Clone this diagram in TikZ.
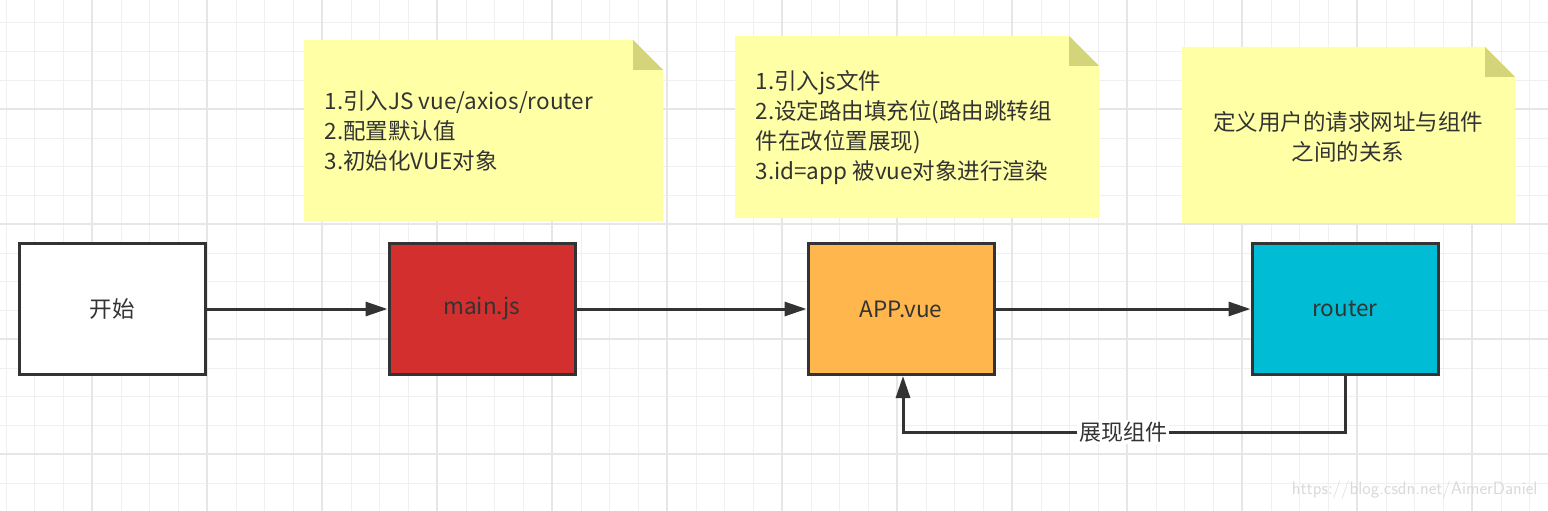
\documentclass[tikz,border=0pt]{standalone}
\usepackage{fontspec}
\setmainfont{Noto Sans CJK SC}
\usetikzlibrary{arrows.meta}
\definecolor{gridc}{HTML}{F0F0F0}
\definecolor{gridm}{HTML}{E6E6E6}
\definecolor{notec}{HTML}{FFFFA6}
\definecolor{foldc}{HTML}{D4D47A}
\definecolor{redc}{HTML}{D32F2F}
\definecolor{orac}{HTML}{FFB74D}
\definecolor{cyac}{HTML}{00BCD4}
\definecolor{linec}{HTML}{333333}
\begin{document}
\begin{tikzpicture}[x=1pt,y=-1pt,
  box/.style={draw=linec,line width=3pt,minimum width=186pt,minimum height=131pt,inner sep=0pt,font=\fontsize{22.5}{26}\selectfont,text=linec},
  conn/.style={draw=linec,line width=3pt,-{Triangle[length=22pt,width=14pt]}},
  notetext/.style={font=\fontsize{22.5}{30}\selectfont,text=linec,align=left,anchor=west}]
\useasboundingbox (0,0) rectangle (1548,511);
\fill[white] (0,0) rectangle (1548,511);
\foreach \i in {0,...,54} {\draw[gridc,line width=1pt] (6+\i*28.75,0) -- (6+\i*28.75,511);}
\foreach \i in {0,...,18} {\draw[gridc,line width=1pt] (0,-5.75+\i*28.75) -- (1548,-5.75+\i*28.75);}
\foreach \i in {0,...,14} {\draw[gridm,line width=1.2pt] (-23+\i*115,0) -- (-23+\i*115,511);}
\foreach \i in {0,...,5} {\draw[gridm,line width=1.2pt] (0,-6+\i*115) -- (1548,-6+\i*115);}
% notes
\foreach \a/\b/\c/\d in {304/40/663/221, 735/36/1099/218, 1182/47/1515/223}{
  \fill[notec] (\a,\b) -- (\c-30,\b) -- (\c,\b+30) -- (\c,\d) -- (\a,\d) -- cycle;
  \fill[foldc] (\c-30,\b) -- (\c,\b+30) -- (\c-30,\b+30) -- cycle;
}
\node[notetext] (n1) at (321,131) {1.引入JS vue/axios/router\\2.配置默认值\\3.初始化VUE对象};
\node[notetext] (n2) at (752,128) {1.引入js文件\\2.设定路由填充位(路由跳转组\\件在改位置展现)\\3.id=app 被vue对象进行渲染};
\node[font=\fontsize{22.5}{30}\selectfont,text=linec,align=center] (n3) at (1348,137) {定义用户的请求网址与组件\\之间的关系};
% boxes
\node[box,fill=white] (start) at (112,309) {开始};
\node[box,fill=redc] (main) at (482,309) {main.js};
\node[box,fill=orac] (app) at (901,309) {APP.vue};
\node[box,fill=cyac] (router) at (1345,309) {router};
\draw[conn] (start) -- (main);
\draw[conn] (main) -- (app);
\draw[conn] (app) -- (router);
\coordinate (c1) at (1345,432);
\coordinate (c2) at (903,432);
\draw[conn] (router.south) -- (c1) -- (c2) -- (app.south -| c2);
\node[fill=white,inner sep=2pt,font=\fontsize{22}{26}\selectfont,text=linec] (lbl) at (1123,432) {展现组件};
\node[font=\fontsize{18}{20}\selectfont\sffamily,text=black!15,anchor=south east] (wm) at (1541,503) {https://blog.csdn.net/AimerDaniel};
\end{tikzpicture}
\end{document}
